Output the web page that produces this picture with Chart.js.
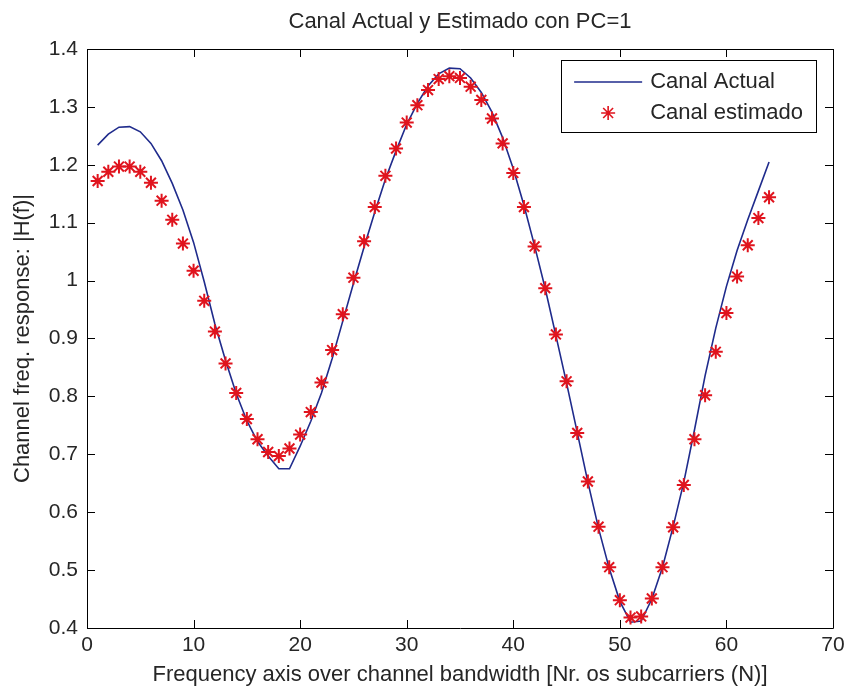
<!DOCTYPE html>
<html>
<head>
<meta charset="utf-8">
<title>Canal Actual y Estimado con PC=1</title>
<script src="https://cdn.jsdelivr.net/npm/chart.js@4.4.1/dist/chart.umd.min.js"></script>
<style>
  html, body { margin: 0; padding: 0; background: #ffffff; }
  canvas { display: block; }
</style>
</head>
<body>
<canvas id="myChart" width="845" height="691"></canvas>
<script>
'use strict';

const subcarriers = [
  1, 2, 3, 4, 5, 6, 7, 8, 9, 10, 11, 12, 13, 14, 15, 16,
  17, 18, 19, 20, 21, 22, 23, 24, 25, 26, 27, 28, 29, 30, 31, 32,
  33, 34, 35, 36, 37, 38, 39, 40, 41, 42, 43, 44, 45, 46, 47, 48,
  49, 50, 51, 52, 53, 54, 55, 56, 57, 58, 59, 60, 61, 62, 63, 64
];

// |H(f)| of the real channel
const actualChannel = [
  1.234, 1.253, 1.265, 1.266, 1.257, 1.237, 1.207, 1.168,
  1.122, 1.066, 0.998, 0.925, 0.862, 0.805, 0.758, 0.722,
  0.697, 0.675, 0.675, 0.714, 0.757, 0.806, 0.865, 0.930,
  0.995, 1.058, 1.118, 1.175, 1.224, 1.270, 1.306, 1.336,
  1.357, 1.367, 1.366, 1.350, 1.325, 1.291, 1.247, 1.193,
  1.130, 1.060, 0.986, 0.905, 0.823, 0.738, 0.652, 0.572,
  0.503, 0.446, 0.410, 0.412, 0.450, 0.505, 0.575, 0.652,
  0.742, 0.836, 0.918, 0.990, 1.052, 1.105, 1.155, 1.205
];

// |H(f)| estimated from the pilots
const estimatedChannel = [
  1.172, 1.188, 1.197, 1.197, 1.188, 1.169, 1.138, 1.105,
  1.064, 1.017, 0.965, 0.912, 0.857, 0.806, 0.761, 0.726,
  0.704, 0.697, 0.710, 0.734, 0.773, 0.824, 0.880, 0.942,
  1.005, 1.068, 1.127, 1.181, 1.228, 1.273, 1.303, 1.329,
  1.348, 1.353, 1.350, 1.335, 1.312, 1.280, 1.237, 1.186,
  1.127, 1.059, 0.987, 0.907, 0.826, 0.737, 0.653, 0.575,
  0.505, 0.448, 0.418, 0.420, 0.451, 0.505, 0.574, 0.647,
  0.726, 0.802, 0.877, 0.944, 1.007, 1.061, 1.108, 1.144
];

const xTicks = [0, 10, 20, 30, 40, 50, 60, 70];
const xTickLabels = ['0', '10', '20', '30', '40', '50', '60', '70'];
const yTicks = [0.4, 0.5, 0.6, 0.7, 0.8, 0.9, 1.0, 1.1, 1.2, 1.3, 1.4];
const yTickLabels = ['0.4', '0.5', '0.6', '0.7', '0.8', '0.9', '1', '1.1', '1.2', '1.3', '1.4'];

const seriesNames = ['Canal Actual', 'Canal estimado'];

const lineBlue = '#1f2b8c';
const starRed = '#e0141e';
const textColor = '#262626';

Chart.defaults.font.family = '"Liberation Sans", Arial, Helvetica, sans-serif';
Chart.defaults.color = textColor;

const toPoints = values => subcarriers.map((n, i) => ({ x: n, y: values[i] }));

const data = {
  datasets: [{
    label: seriesNames[1],
    data: toPoints(estimatedChannel),
    showLine: false,
    pointStyle: 'star',
    pointRadius: 7,
    pointBorderWidth: 2,
    pointBorderColor: starRed,
    pointBackgroundColor: starRed,
    order: 0
  }, {
    label: seriesNames[0],
    data: toPoints(actualChannel),
    borderColor: lineBlue,
    borderWidth: 1.6,
    pointRadius: 0,
    tension: 0,
    order: 1
  }]
};

// axes box with inward ticks on all four sides
const axesBox = {
  id: 'axesBox',
  afterDatasetsDraw(chart) {
    const { ctx, chartArea: { top, bottom, left, right }, scales: { x, y } } = chart;
    const tick = 8;
    ctx.save();
    ctx.strokeStyle = '#000000';
    ctx.lineWidth = 1;
    ctx.beginPath();
    ctx.rect(Math.round(left) + 0.5, Math.round(top) + 0.5,
      Math.round(right - left), Math.round(bottom - top));
    for (const v of xTicks) {
      const px = Math.round(x.getPixelForValue(v)) + 0.5;
      ctx.moveTo(px, bottom);
      ctx.lineTo(px, bottom - tick);
      ctx.moveTo(px, top);
      ctx.lineTo(px, top + tick);
    }
    for (const v of yTicks) {
      const py = Math.round(y.getPixelForValue(v)) + 0.5;
      ctx.moveTo(left, py);
      ctx.lineTo(left + tick, py);
      ctx.moveTo(right, py);
      ctx.lineTo(right - tick, py);
    }
    ctx.stroke();
    ctx.restore();
  }
};

// boxed legend in the upper right corner of the axes
const legendBox = {
  id: 'legendBox',
  afterDraw(chart) {
    const { ctx, chartArea: { top, right } } = chart;
    const [stars, line] = chart.data.datasets;
    ctx.save();
    ctx.font = '22px "Liberation Sans", Arial, sans-serif';
    const textW = Math.max(...seriesNames.map(s => ctx.measureText(s).width));
    const boxH = 72;
    const boxW = 89 + textW + 13;
    const boxR = Math.round(right) - 17;
    const boxL = boxR - boxW;
    const boxT = Math.round(top) + 11;

    ctx.fillStyle = '#ffffff';
    ctx.fillRect(boxL, boxT, boxW, boxH);
    ctx.strokeStyle = '#000000';
    ctx.lineWidth = 1;
    ctx.strokeRect(Math.round(boxL) + 0.5, boxT + 0.5, Math.round(boxW), boxH);

    const row1 = boxT + 22;
    const row2 = boxT + 53;

    ctx.strokeStyle = line.borderColor;
    ctx.lineWidth = line.borderWidth;
    ctx.beginPath();
    ctx.moveTo(boxL + 13, row1);
    ctx.lineTo(boxL + 81, row1);
    ctx.stroke();

    ctx.strokeStyle = stars.pointBorderColor;
    ctx.fillStyle = stars.pointBackgroundColor;
    Chart.helpers.drawPoint(ctx, {
      pointStyle: 'star', rotation: 0, radius: stars.pointRadius, borderWidth: stars.pointBorderWidth
    }, boxL + 47, row2);

    ctx.fillStyle = textColor;
    ctx.textAlign = 'left';
    ctx.textBaseline = 'middle';
    ctx.fillText(line.label, boxL + 89, row1);
    ctx.fillText(stars.label, boxL + 89, row2);
    ctx.restore();
  }
};

// config
const config = {
  type: 'line',
  data,
  options: {
    responsive: false,
    animation: false,
    layout: {
      padding: { left: 0, right: 0, top: 0, bottom: 0 }
    },
    plugins: {
      legend: { display: false },
      tooltip: { enabled: false },
      title: {
        display: true,
        text: 'Canal Actual y Estimado con PC=1',
        fullSize: false,
        color: textColor,
        font: { size: 22, weight: 'normal', lineHeight: 1.2 },
        padding: { top: 9, bottom: 13.6 }
      }
    },
    scales: {
      x: {
        type: 'linear',
        min: 0,
        max: 70,
        afterBuildTicks: scale => { scale.ticks = xTicks.map(value => ({ value })); },
        afterFit: scale => {
          scale.height = 63;
          scale.paddingLeft = 0;
          scale.paddingRight = 12;
        },
        grid: { display: false, drawTicks: false },
        border: { display: false },
        ticks: {
          padding: 5,
          maxRotation: 0,
          font: { size: 21 },
          callback: (value, index) => xTickLabels[index]
        },
        title: {
          display: true,
          text: 'Frequency axis over channel bandwidth [Nr. os subcarriers (N)]',
          font: { size: 22, lineHeight: 1.2 },
          padding: { top: 0, bottom: 3 }
        }
      },
      y: {
        min: 0.4,
        max: 1.4,
        afterBuildTicks: scale => { scale.ticks = yTicks.map(value => ({ value })); },
        afterFit: scale => { scale.width = 87; },
        grid: { display: false, drawTicks: false },
        border: { display: false },
        ticks: {
          padding: 9,
          font: { size: 21 },
          callback: (value, index) => yTickLabels[index]
        },
        title: {
          display: true,
          text: 'Channel freq. response: |H(f)|',
          font: { size: 22, lineHeight: 1.2 },
          padding: { top: 10, bottom: 0 }
        }
      }
    }
  },
  plugins: [axesBox, legendBox]
};

// render init block
const myChart = new Chart(
  document.getElementById('myChart'),
  config
);
</script>
</body>
</html>
